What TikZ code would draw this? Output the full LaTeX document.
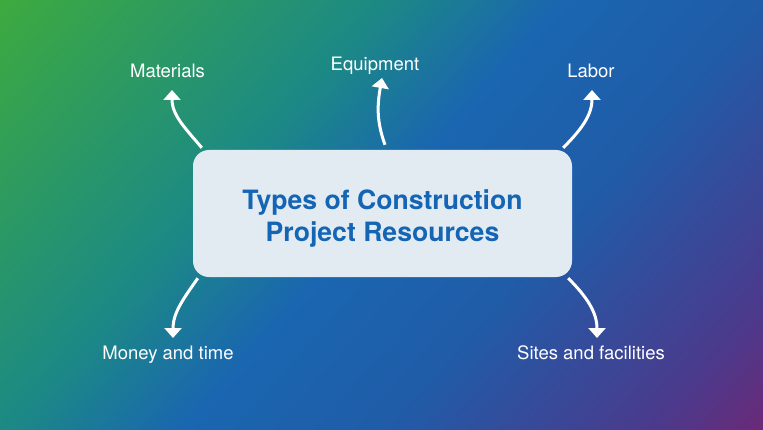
\documentclass[tikz,border=0pt]{standalone}
\usepackage{fontspec}
\setmainfont{TeX Gyre Heros}
\usetikzlibrary{arrows.meta}

\definecolor{titleblue}{RGB}{21,101,181}
\definecolor{boxfill}{RGB}{226,234,242}
\definecolor{bgA}{RGB}{61,170,63}
\definecolor{bgB}{RGB}{28,138,132}
\definecolor{bgC}{RGB}{26,102,176}
\definecolor{bgD}{RGB}{32,92,168}
\definecolor{bgE}{RGB}{75,58,140}
\definecolor{bgF}{RGB}{106,42,120}
\pgfdeclarehorizontalshading{bgshade}{100bp}{color(0bp)=(bgA); color(26.25bp)=(bgA);
  color(42bp)=(bgB); color(49.6bp)=(bgC); color(58bp)=(bgD); color(69bp)=(bgE);
  color(73.75bp)=(bgF); color(100bp)=(bgF)}

\begin{document}
\begin{tikzpicture}[x=1pt,y=1pt,
  lbl/.style={text=white, font=\fontsize{18.5}{22}\selectfont, inner sep=0pt, anchor=base},
  resbox/.style={fill=boxfill, rounded corners=16pt, minimum width=379pt, minimum height=127pt, inner sep=0pt},
  ttl/.style={text=titleblue, font=\fontsize{26.6}{32}\selectfont\bfseries, align=center, inner sep=0pt},
  arr/.style={draw=white, line width=3pt, -{Triangle[width=17pt,length=10pt]}}]
% Background
\useasboundingbox (0,0) rectangle (763,429);
\begin{scope}
\clip (0,0) rectangle (763,429);
\shade[shading=bgshade, shading angle=-41.5] (-68.5,-235.5) rectangle (831.5,664.5);
\end{scope}

% Central box
\node[resbox] (res) at (382.5,215.5) {};
\node[ttl] (title) at ([yshift=-5pt]res.center) {Types of Construction\\Project Resources};

% Resources
\node[lbl] (mat) at (167.5,351) {Materials};
\node[lbl] (eqp) at (375,358) {Equipment};
\node[lbl] (lab) at (591,351) {Labor};
\node[lbl] (mon) at (168,70) {Money and time};
\node[lbl] (sit) at (591,70) {Sites and facilities};

% Arrows
\draw[arr] ([shift={(9,2)}]res.north west) to[out=130,in=-90] ([shift={(4.5,-12)}]mat.base);
\draw[arr] ([shift={(2.5,5)}]res.north) to[out=110,in=-100] ([shift={(7,-7)}]eqp.base);
\draw[arr] ([shift={(-9,2)}]res.north east) to[out=45,in=-90] ([shift={(1,-12)}]lab.base);
\draw[arr] ([shift={(5,-1)}]res.south west) to[out=235,in=90] ([shift={(5,21)}]mon.base);
\draw[arr] ([shift={(-4,-1)}]res.south east) to[out=-45,in=90] ([shift={(6,21)}]sit.base);
\end{tikzpicture}
\end{document}
